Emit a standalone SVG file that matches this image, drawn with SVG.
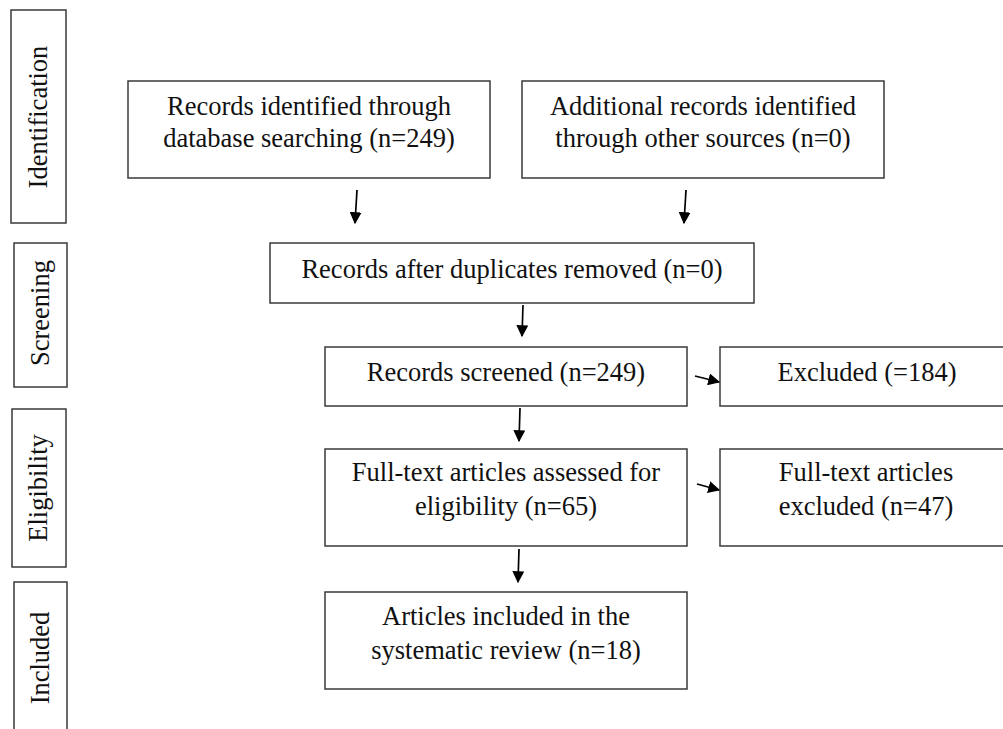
<svg xmlns="http://www.w3.org/2000/svg" width="1003" height="729" viewBox="0 0 1003 729">
<defs>
<style>
.box{fill:#fff;stroke:#3a3a3a;stroke-width:1.5}
.t{font-family:"Liberation Serif","Times New Roman",serif;font-size:26.5px;fill:#111;text-anchor:middle}
.c{stroke:#000;stroke-width:1.7;fill:none}
</style>
<marker id="ah" viewBox="0 0 10 10" refX="9" refY="5" markerWidth="12" markerHeight="12" markerUnits="userSpaceOnUse" orient="auto"><path d="M0,0 L10,5 L0,10 z" fill="#000"/></marker>
</defs>
<rect width="1003" height="729" fill="#fff"/>
<g id="stage-identification"><rect class="box" x="11" y="10" width="55" height="213"/><text class="t" transform="translate(47,117) rotate(-90)">Identification</text></g>
<g id="stage-screening"><rect class="box" x="14" y="243" width="53" height="144"/><text class="t" transform="translate(49,313) rotate(-90)">Screening</text></g>
<g id="stage-eligibility"><rect class="box" x="12" y="409" width="54" height="158"/><text class="t" transform="translate(47,488) rotate(-90)">Eligibility</text></g>
<g id="stage-included"><rect class="box" x="14" y="582" width="53" height="160"/><text class="t" transform="translate(49,658) rotate(-90)">Included</text></g>
<g id="n1"><rect class="box" x="128" y="81" width="362" height="97"/><text class="t" x="309" y="115">Records identified through</text><text class="t" x="309" y="147">database searching (n=249)</text></g>
<g id="n2"><rect class="box" x="522" y="81" width="362" height="97"/><text class="t" x="703" y="115">Additional records identified</text><text class="t" x="703" y="147">through other sources (n=0)</text></g>
<g id="n3"><rect class="box" x="270" y="243" width="484" height="60"/><text class="t" x="512" y="278">Records after duplicates removed (n=0)</text></g>
<g id="n4"><rect class="box" x="325" y="347" width="362" height="59"/><text class="t" x="506" y="381">Records screened (n=249)</text></g>
<g id="n5"><rect class="box" x="720" y="347" width="290" height="59"/><text class="t" x="867" y="381">Excluded (=184)</text></g>
<g id="n6"><rect class="box" x="325" y="449" width="362" height="97"/><text class="t" x="506" y="481">Full-text articles assessed for</text><text class="t" x="506" y="515">eligibility (n=65)</text></g>
<g id="n7"><rect class="box" x="720" y="449" width="290" height="97"/><text class="t" x="866" y="481">Full-text articles</text><text class="t" x="866" y="515">excluded (n=47)</text></g>
<g id="n8"><rect class="box" x="325" y="592" width="362" height="97"/><text class="t" x="506" y="625">Articles included in the</text><text class="t" x="506" y="659">systematic review (n=18)</text></g>
<g id="connectors">
<line class="c" x1="357" y1="190" x2="355" y2="223" marker-end="url(#ah)"/>
<line class="c" x1="686" y1="190" x2="684" y2="223" marker-end="url(#ah)"/>
<line class="c" x1="523" y1="305" x2="522" y2="336" marker-end="url(#ah)"/>
<line class="c" x1="695" y1="376" x2="719" y2="382" marker-end="url(#ah)"/>
<line class="c" x1="520" y1="408" x2="519" y2="441" marker-end="url(#ah)"/>
<line class="c" x1="697" y1="484" x2="719" y2="490" marker-end="url(#ah)"/>
<line class="c" x1="519" y1="549" x2="518" y2="582" marker-end="url(#ah)"/>
</g>
</svg>
